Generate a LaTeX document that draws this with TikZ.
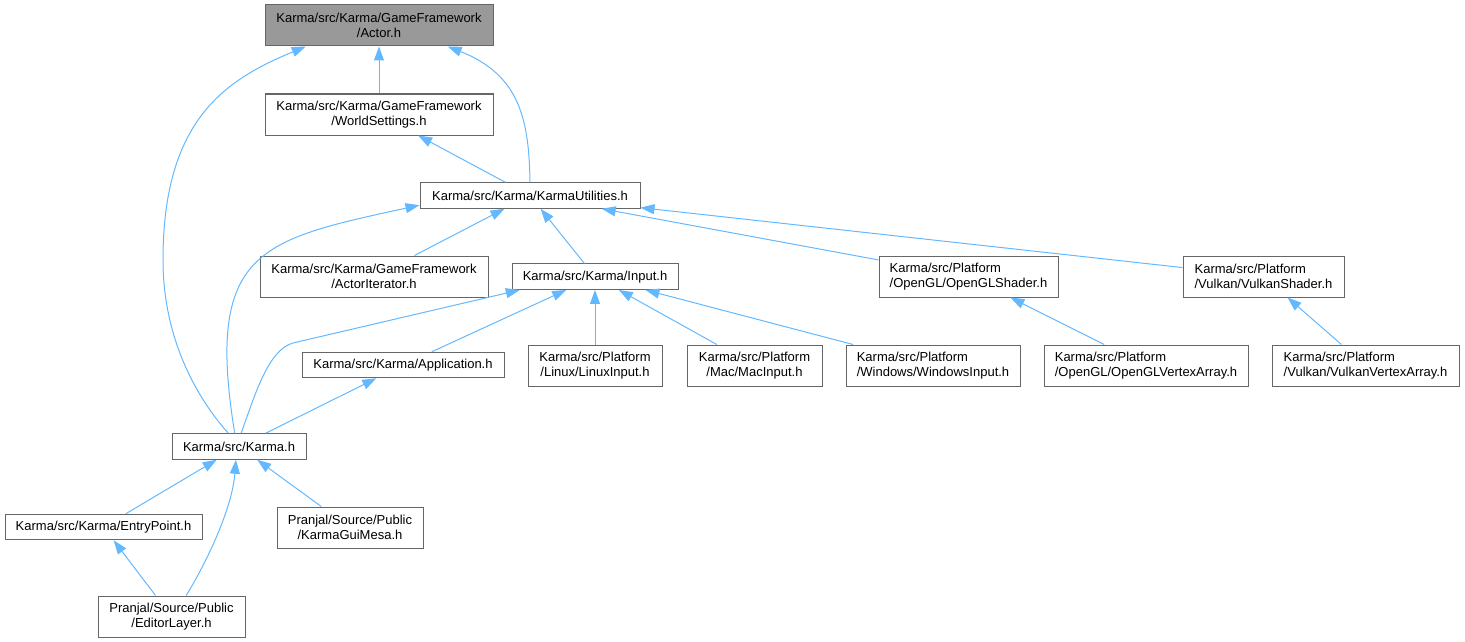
\documentclass[tikz,border=0pt]{standalone}
\usepackage{fontspec}
\setmainfont{Liberation Sans}
\usetikzlibrary{arrows.meta}
\definecolor{grey40}{HTML}{666666}
\definecolor{grey60}{HTML}{999999}
\definecolor{steelblue}{HTML}{63B8FF}
\begin{document}
\begin{tikzpicture}[x=1pt, y=-1pt,
  file/.style={draw=grey40, fill=white, line width=1pt, inner sep=0pt, align=center, font=\fontsize{13}{14.5}\selectfont},
  one/.style={file, minimum height=25.5pt},
  two/.style={file, minimum height=41pt},
  dep/.style={draw=steelblue, line width=1pt, -{Triangle[length=14pt, width=10pt]}}]
\useasboundingbox (0,0) rectangle (1465,642);
\node [two, fill=grey60, minimum width=228pt] (actor) at (379,25.5) {Karma/src/Karma/GameFramework\\/Actor.h};
\node [two, minimum width=228pt] (world) at (379,114.5) {Karma/src/Karma/GameFramework\\/WorldSettings.h};
\node [one, minimum width=220pt] (utils) at (530,195.5) {Karma/src/Karma/KarmaUtilities.h};
\node [two, minimum width=228pt] (iter) at (374,276.5) {Karma/src/Karma/GameFramework\\/ActorIterator.h};
\node [one, minimum width=166pt] (input) at (595,276.7) {Karma/src/Karma/Input.h};
\node [two, align=left, minimum width=179pt] (glshader) at (968.5,276.5) {Karma/src/Platform\\/OpenGL/OpenGLShader.h};
\node [two, align=left, minimum width=161pt] (vkshader) at (1263.5,276.5) {Karma/src/Platform\\/Vulkan/VulkanShader.h};
\node [one, minimum width=202pt] (app) at (403,365) {Karma/src/Karma/Application.h};
\node [two, minimum width=134pt] (linux) at (595,365.5) {Karma/src/Platform\\/Linux/LinuxInput.h};
\node [two, minimum width=135pt] (mac) at (754.5,365.5) {Karma/src/Platform\\/Mac/MacInput.h};
\node [two, align=left, minimum width=174pt] (windows) at (933,365.5) {Karma/src/Platform\\/Windows/WindowsInput.h};
\node [two, align=left, minimum width=204pt] (glvao) at (1146,365.5) {Karma/src/Platform\\/OpenGL/OpenGLVertexArray.h};
\node [two, align=left, minimum width=187pt] (vkvao) at (1365.5,365.5) {Karma/src/Platform\\/Vulkan/VulkanVertexArray.h};
\node [one, minimum width=134pt] (karma) at (239,446.5) {Karma/src/Karma.h};
\node [one, minimum width=197pt] (entry) at (103.5,527) {Karma/src/Karma/EntryPoint.h};
\node [two, minimum width=146pt] (mesa) at (350,527.5) {Pranjal/Source/Public\\/KarmaGuiMesa.h};
\node [two, minimum width=147pt] (editor) at (171.5,616.5) {Pranjal/Source/Public\\/EditorLayer.h};
\draw [dep] (world) -- (actor);
\draw [dep] (utils.north) .. controls (529,120) and (520,75) .. (actor.-17);
\draw [dep] (karma.129) .. controls (190,390) and (163,330) .. (163,260) .. controls (163,120) and (225,80) .. (actor.-164.5);
\draw [dep] (utils) -- (world);
\draw [dep] (karma.108) .. controls (205,250) and (260,240) .. (utils.-175.6);
\draw [dep] (iter) -- (utils);
\draw [dep] (input) -- (utils);
\draw [dep] (glshader) -- (utils);
\draw [dep] (vkshader) -- (utils);
\draw [dep] (karma.81) .. controls (255,395) and (268,350) .. (293,343) -- (input.-170);
\draw [dep] (app) -- (input);
\draw [dep] (linux) -- (input);
\draw [dep] (mac) -- (input);
\draw [dep] (windows) -- (input);
\draw [dep] (glvao) -- (glshader);
\draw [dep] (vkvao) -- (vkshader);
\draw [dep] (karma) -- (app);
\draw [dep] (entry) -- (karma);
\draw [dep] (editor.55) .. controls (205,565) and (232,510) .. (karma.-103);
\draw [dep] (mesa) -- (karma);
\draw [dep] (editor) -- (entry);
\end{tikzpicture}
\end{document}
